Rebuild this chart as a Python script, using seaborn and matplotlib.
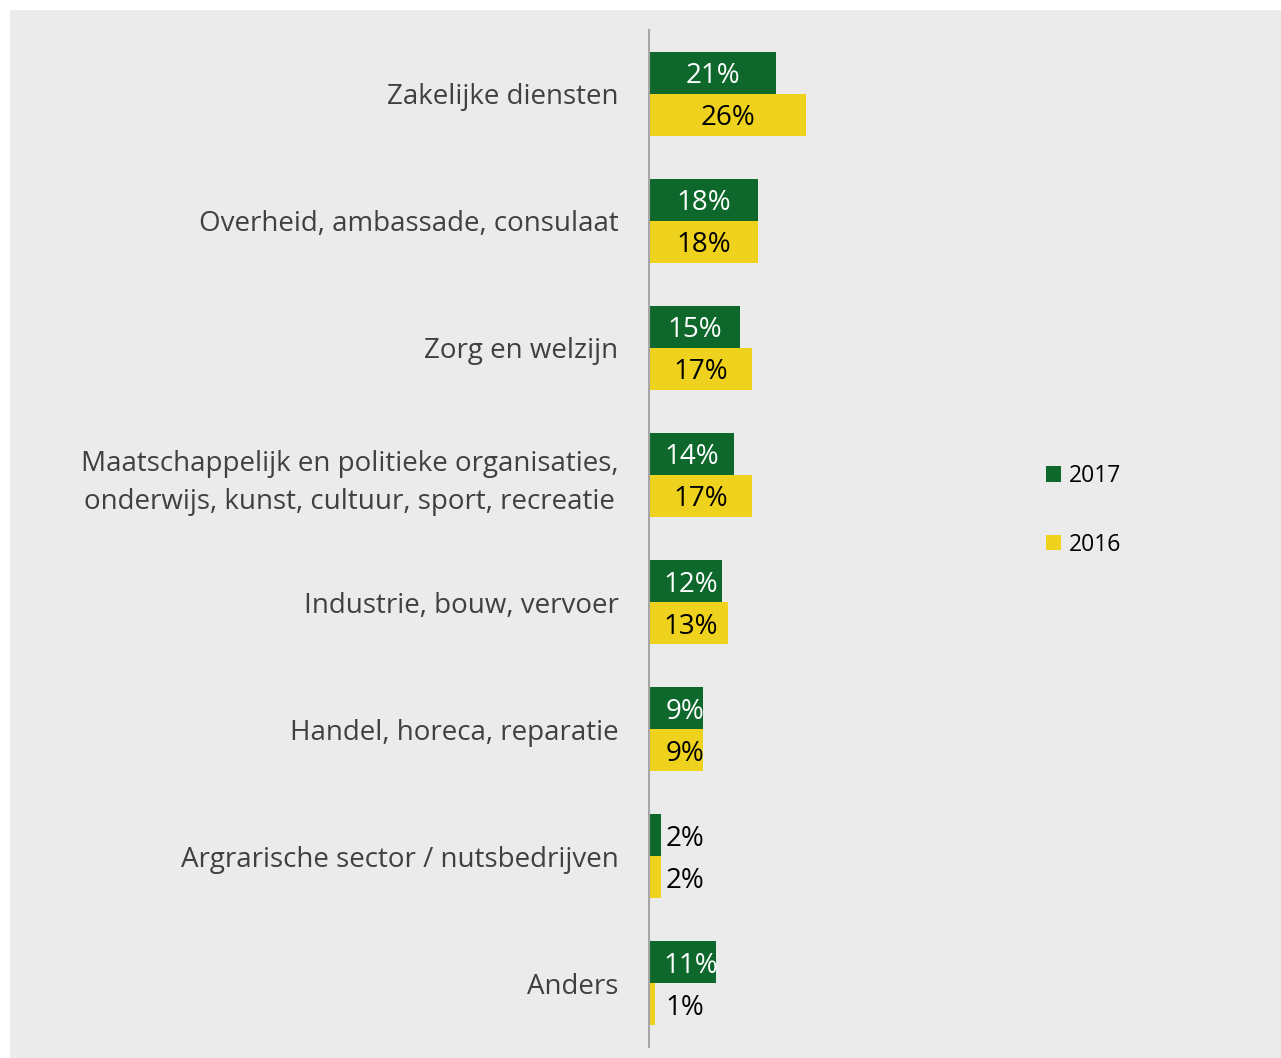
import matplotlib
matplotlib.use("Agg")
import matplotlib.pyplot as plt
from matplotlib.patches import Patch, Rectangle
import numpy as np
import pandas as pd
import seaborn as sns

# Sector shares per year (percent)
categories = [
    "Zakelijke diensten",
    "Overheid, ambassade, consulaat",
    "Zorg en welzijn",
    "Maatschappelijk en politieke organisaties,\nonderwijs, kunst, cultuur, sport, recreatie",
    "Industrie, bouw, vervoer",
    "Handel, horeca, reparatie",
    "Argrarische sector / nutsbedrijven",
    "Anders",
]
years = ["2017", "2016"]
values_2017 = [21, 18, 15, 14, 12, 9, 2, 11]
values_2016 = [26, 18, 17, 17, 13, 9, 2, 1]

colors = {"2017": "#0e682c", "2016": "#efd21e"}

df = pd.DataFrame({
    "sector": categories * 2,
    "jaar": ["2017"] * len(categories) + ["2016"] * len(categories),
    "aandeel": values_2017 + values_2016,
})

sns.set_style("white")
plt.rcParams["font.family"] = ["Open Sans", "DejaVu Sans"]

W, H = 1281, 1058
fig = plt.figure(figsize=(W / 100, H / 100), dpi=100, facecolor="white")
# light grey panel behind the chart
fig.patches.append(Rectangle((10 / W, 0), 1 - 10 / W, 1 - 10 / H,
                             transform=fig.transFigure, facecolor="#ebebeb",
                             edgecolor="none", zorder=-5))

ax = fig.add_axes([649 / W, (H - 1047) / H, (1000 - 649) / W, (1047 - 30) / H])
ax.set_facecolor("none")
ax.set_zorder(1)

sns.barplot(data=df, y="sector", x="aandeel", hue="jaar", hue_order=years,
            order=categories, palette=colors, orient="h", width=0.66,
            saturation=1, linewidth=0, ax=ax, legend=False)

ax.set_xlim(0, 351 / 6.05)
ax.set_ylim(len(categories) - 0.5, -0.5)
ax.set_xlabel("")
ax.set_ylabel("")
ax.set_xticks([])
for s in ["top", "right", "bottom"]:
    ax.spines[s].set_visible(False)
ax.spines["left"].set_color("#a6a6a6")
ax.spines["left"].set_linewidth(1.5)
ax.tick_params(axis="y", length=0, pad=22, labelsize=20, labelcolor="#404040")
for lbl in ax.get_yticklabels():
    lbl.set_multialignment("center")
    lbl.set_linespacing(1.45)

# value labels on the bars
for container, year in zip(ax.containers, years):
    for bar in container:
        v = bar.get_width()
        txt = f"{v:.0f}%"
        min_c = 6.9 if len(txt) == 3 else 6.0
        x = max(v / 2, min_c)
        y = bar.get_y() + bar.get_height() / 2
        color = "white" if (year == "2017" and v > 5) else "black"
        ax.text(x, y, txt, ha="center", va="center_baseline", fontsize=20,
                color=color)

handles = [Patch(facecolor=colors[y], edgecolor="none", label=y) for y in years]
fig.legend(handles=handles, loc="upper left",
           bbox_to_anchor=(1037 / W, 1 - 455 / H), frameon=False,
           fontsize=16.5, handlelength=0.65, handleheight=0.65,
           handletextpad=0.35, labelspacing=1.95, borderaxespad=0,
           labelcolor="black")

fig.savefig("out.png", dpi=100, facecolor="white")
